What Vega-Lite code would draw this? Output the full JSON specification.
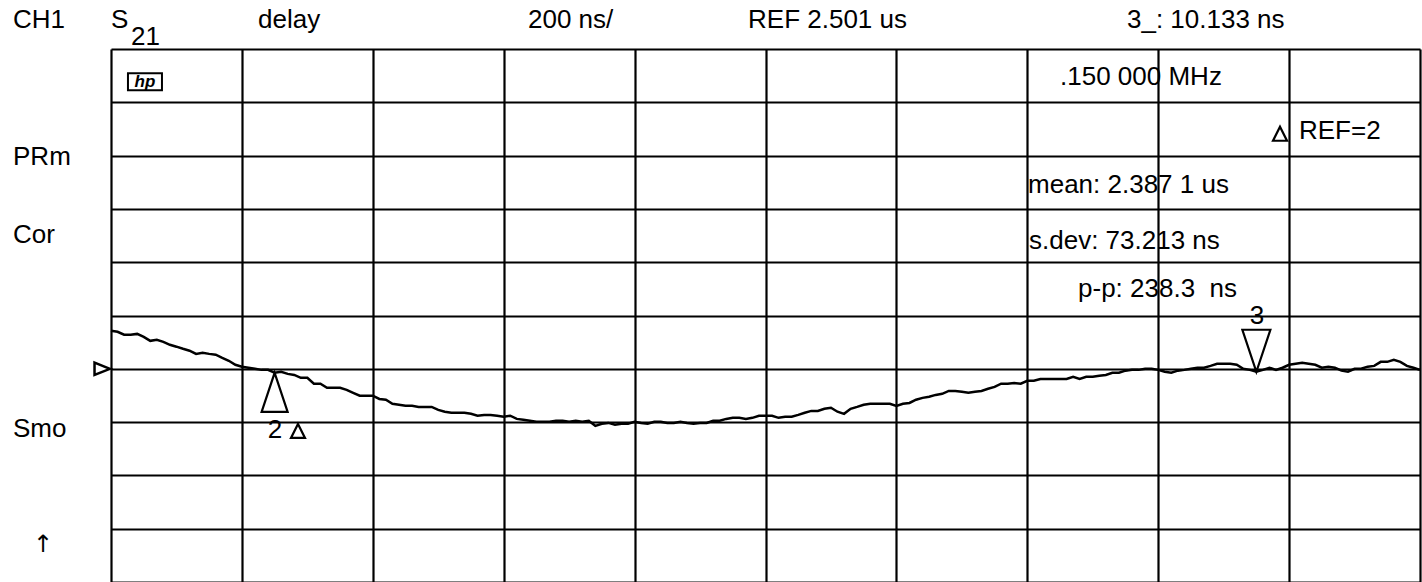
{
  "$schema": "https://vega.github.io/schema/vega-lite/v6.json",
  "width": 1309,
  "height": 533,
  "autosize": {"type": "none"},
  "padding": {"left": 111, "top": 49, "right": 2, "bottom": 0},
  "background": "white",
  "config": {
    "view": {"stroke": null},
    "text": {"font": "Liberation Sans", "fontSize": 26, "color": "black"},
    "axis": {"grid": true, "gridColor": "black", "gridWidth": 2.2, "gridOpacity": 1, "domain": false, "ticks": false, "labels": false, "title": null}
  },
  "data": {"values": [{}]},
  "datasets": {
    "trace": [
      {"pt":0,"delay":2.644},{"pt":1,"delay":2.640},{"pt":2,"delay":2.629},{"pt":3,"delay":2.629},{"pt":4,"delay":2.632},{"pt":5,"delay":2.621},{"pt":6,"delay":2.606},{"pt":7,"delay":2.610},{"pt":8,"delay":2.602},{"pt":9,"delay":2.591},
      {"pt":10,"delay":2.584},{"pt":11,"delay":2.576},{"pt":12,"delay":2.569},{"pt":13,"delay":2.557},{"pt":14,"delay":2.561},{"pt":15,"delay":2.557},{"pt":16,"delay":2.554},{"pt":17,"delay":2.542},{"pt":18,"delay":2.531},{"pt":19,"delay":2.516},
      {"pt":20,"delay":2.509},{"pt":21,"delay":2.505},{"pt":22,"delay":2.501},{"pt":23,"delay":2.497},{"pt":24,"delay":2.497},{"pt":25,"delay":2.486},{"pt":26,"delay":2.490},{"pt":27,"delay":2.482},{"pt":28,"delay":2.478},{"pt":29,"delay":2.467},
      {"pt":30,"delay":2.467},{"pt":31,"delay":2.445},{"pt":32,"delay":2.445},{"pt":33,"delay":2.430},{"pt":34,"delay":2.430},{"pt":35,"delay":2.430},{"pt":36,"delay":2.422},{"pt":37,"delay":2.411},{"pt":38,"delay":2.400},{"pt":39,"delay":2.400},
      {"pt":40,"delay":2.400},{"pt":41,"delay":2.388},{"pt":42,"delay":2.385},{"pt":43,"delay":2.370},{"pt":44,"delay":2.366},{"pt":45,"delay":2.362},{"pt":46,"delay":2.362},{"pt":47,"delay":2.358},{"pt":48,"delay":2.358},{"pt":49,"delay":2.358},
      {"pt":50,"delay":2.347},{"pt":51,"delay":2.340},{"pt":52,"delay":2.336},{"pt":53,"delay":2.336},{"pt":54,"delay":2.336},{"pt":55,"delay":2.332},{"pt":56,"delay":2.325},{"pt":57,"delay":2.328},{"pt":58,"delay":2.328},{"pt":59,"delay":2.325},
      {"pt":60,"delay":2.321},{"pt":61,"delay":2.325},{"pt":62,"delay":2.313},{"pt":63,"delay":2.310},{"pt":64,"delay":2.306},{"pt":65,"delay":2.302},{"pt":66,"delay":2.302},{"pt":67,"delay":2.302},{"pt":68,"delay":2.306},{"pt":69,"delay":2.306},
      {"pt":70,"delay":2.302},{"pt":71,"delay":2.306},{"pt":72,"delay":2.302},{"pt":73,"delay":2.306},{"pt":74,"delay":2.287},{"pt":75,"delay":2.295},{"pt":76,"delay":2.298},{"pt":77,"delay":2.291},{"pt":78,"delay":2.295},{"pt":79,"delay":2.295},
      {"pt":80,"delay":2.302},{"pt":81,"delay":2.298},{"pt":82,"delay":2.295},{"pt":83,"delay":2.302},{"pt":84,"delay":2.302},{"pt":85,"delay":2.298},{"pt":86,"delay":2.298},{"pt":87,"delay":2.302},{"pt":88,"delay":2.298},{"pt":89,"delay":2.295},
      {"pt":90,"delay":2.298},{"pt":91,"delay":2.298},{"pt":92,"delay":2.306},{"pt":93,"delay":2.306},{"pt":94,"delay":2.313},{"pt":95,"delay":2.317},{"pt":96,"delay":2.317},{"pt":97,"delay":2.313},{"pt":98,"delay":2.317},{"pt":99,"delay":2.325},
      {"pt":100,"delay":2.325},{"pt":101,"delay":2.325},{"pt":102,"delay":2.317},{"pt":103,"delay":2.321},{"pt":104,"delay":2.321},{"pt":105,"delay":2.328},{"pt":106,"delay":2.336},{"pt":107,"delay":2.343},{"pt":108,"delay":2.343},{"pt":109,"delay":2.351},
      {"pt":110,"delay":2.355},{"pt":111,"delay":2.340},{"pt":112,"delay":2.332},{"pt":113,"delay":2.351},{"pt":114,"delay":2.358},{"pt":115,"delay":2.366},{"pt":116,"delay":2.370},{"pt":117,"delay":2.370},{"pt":118,"delay":2.370},{"pt":119,"delay":2.370},
      {"pt":120,"delay":2.362},{"pt":121,"delay":2.370},{"pt":122,"delay":2.373},{"pt":123,"delay":2.385},{"pt":124,"delay":2.392},{"pt":125,"delay":2.396},{"pt":126,"delay":2.403},{"pt":127,"delay":2.407},{"pt":128,"delay":2.418},{"pt":129,"delay":2.418},
      {"pt":130,"delay":2.415},{"pt":131,"delay":2.411},{"pt":132,"delay":2.415},{"pt":133,"delay":2.418},{"pt":134,"delay":2.426},{"pt":135,"delay":2.433},{"pt":136,"delay":2.445},{"pt":137,"delay":2.445},{"pt":138,"delay":2.448},{"pt":139,"delay":2.445},
      {"pt":140,"delay":2.456},{"pt":141,"delay":2.456},{"pt":142,"delay":2.463},{"pt":143,"delay":2.463},{"pt":144,"delay":2.463},{"pt":145,"delay":2.463},{"pt":146,"delay":2.463},{"pt":147,"delay":2.471},{"pt":148,"delay":2.463},{"pt":149,"delay":2.471},
      {"pt":150,"delay":2.471},{"pt":151,"delay":2.475},{"pt":152,"delay":2.478},{"pt":153,"delay":2.486},{"pt":154,"delay":2.486},{"pt":155,"delay":2.494},{"pt":156,"delay":2.497},{"pt":157,"delay":2.497},{"pt":158,"delay":2.501},{"pt":159,"delay":2.501},
      {"pt":160,"delay":2.497},{"pt":161,"delay":2.490},{"pt":162,"delay":2.486},{"pt":163,"delay":2.494},{"pt":164,"delay":2.497},{"pt":165,"delay":2.501},{"pt":166,"delay":2.505},{"pt":167,"delay":2.505},{"pt":168,"delay":2.512},{"pt":169,"delay":2.520},
      {"pt":170,"delay":2.520},{"pt":171,"delay":2.520},{"pt":172,"delay":2.516},{"pt":173,"delay":2.501},{"pt":174,"delay":2.497},{"pt":175,"delay":2.490},{"pt":176,"delay":2.497},{"pt":177,"delay":2.505},{"pt":178,"delay":2.497},{"pt":179,"delay":2.505},
      {"pt":180,"delay":2.516},{"pt":181,"delay":2.520},{"pt":182,"delay":2.524},{"pt":183,"delay":2.520},{"pt":184,"delay":2.516},{"pt":185,"delay":2.505},{"pt":186,"delay":2.509},{"pt":187,"delay":2.505},{"pt":188,"delay":2.494},{"pt":189,"delay":2.490},
      {"pt":190,"delay":2.501},{"pt":191,"delay":2.501},{"pt":192,"delay":2.509},{"pt":193,"delay":2.512},{"pt":194,"delay":2.527},{"pt":195,"delay":2.527},{"pt":196,"delay":2.535},{"pt":197,"delay":2.527},{"pt":198,"delay":2.512},{"pt":199,"delay":2.505},
      {"pt":200,"delay":2.497}
    ]
  },
  "layer": [
    {
      "data": {"name": "trace"},
      "mark": {"type": "line", "color": "black", "strokeWidth": 2.5, "interpolate": "linear"},
      "encoding": {
        "x": {"field": "pt", "type": "quantitative", "scale": {"domain": [0, 200], "nice": false, "zero": false},
              "axis": {"values": [0, 20, 40, 60, 80, 100, 120, 140, 160, 180, 200]}},
        "y": {"field": "delay", "type": "quantitative", "scale": {"domain": [1.701, 3.701], "nice": false, "zero": false},
              "axis": {"values": [1.701, 1.901, 2.101, 2.301, 2.501, 2.701, 2.901, 3.101, 3.301, 3.501, 3.701]}}
      }
    },
    {
      "data": {"name": "trace"},
      "transform": [{"filter": "datum.pt == 25"}],
      "mark": {"type": "point", "shape": "M0,0L0.667,2L-0.667,2Z", "size": 1521, "filled": false, "stroke": "black", "strokeWidth": 2.2, "opacity": 1},
      "encoding": {"x": {"field": "pt", "type": "quantitative"}, "y": {"field": "delay", "type": "quantitative"}}
    },
    {
      "data": {"name": "trace"},
      "transform": [{"filter": "datum.pt == 175"}],
      "mark": {"type": "point", "shape": "M0,0L0.667,-2L-0.667,-2Z", "size": 1764, "filled": false, "stroke": "black", "strokeWidth": 2.2, "opacity": 1},
      "encoding": {"x": {"field": "pt", "type": "quantitative"}, "y": {"field": "delay", "type": "quantitative"}}
    },
    {
      "mark": {"type": "point", "shape": "M0,0L-2,-0.8L-2,0.8Z", "size": 240, "filled": false, "stroke": "black", "strokeWidth": 2.5, "opacity": 1},
      "encoding": {"x": {"datum": -0.15}, "y": {"datum": 2.501}}
    },
    {
      "mark": {"type": "point", "shape": "M0,-1L1,1L-1,1Z", "size": 196, "filled": false, "stroke": "black", "strokeWidth": 2.2, "opacity": 1},
      "encoding": {"x": {"datum": 28.57}, "y": {"datum": 2.268}}
    },
    {
      "mark": {"type": "point", "shape": "M0,-1L1,1L-1,1Z", "size": 196, "filled": false, "stroke": "black", "strokeWidth": 2.2, "opacity": 1},
      "encoding": {"x": {"datum": 178.61}, "y": {"datum": 3.383}}
    },
    {
      "mark": {"type": "point", "shape": "M-2,-1L2,-1L2,1L-2,1Z", "size": 289, "filled": false, "stroke": "black", "strokeWidth": 2, "opacity": 1},
      "encoding": {"x": {"datum": 5.19}, "y": {"datum": 3.578}}
    },
    {
      "mark": {"type": "text", "align": "center", "baseline": "middle", "fontStyle": "italic", "fontWeight": "bold", "fontSize": 17},
      "encoding": {"x": {"datum": 5.19}, "y": {"datum": 3.578}, "text": {"value": "hp"}}
    },
    {"mark": {"type": "text", "align": "left", "baseline": "middle"}, "encoding": {"x": {"datum": -14.97}, "y": {"datum": 3.809}, "text": {"value": "CH1"}}},
    {"mark": {"type": "text", "align": "left", "baseline": "middle"}, "encoding": {"x": {"datum": 0}, "y": {"datum": 3.809}, "text": {"value": "S"}}},
    {"mark": {"type": "text", "align": "left", "baseline": "middle"}, "encoding": {"x": {"datum": 3.06}, "y": {"datum": 3.747}, "text": {"value": "21"}}},
    {"mark": {"type": "text", "align": "left", "baseline": "middle"}, "encoding": {"x": {"datum": 22.46}, "y": {"datum": 3.809}, "text": {"value": "delay"}}},
    {"mark": {"type": "text", "align": "left", "baseline": "middle"}, "encoding": {"x": {"datum": 63.71}, "y": {"datum": 3.809}, "text": {"value": "200 ns/"}}},
    {"mark": {"type": "text", "align": "left", "baseline": "middle"}, "encoding": {"x": {"datum": 97.33}, "y": {"datum": 3.809}, "text": {"value": "REF 2.501 us"}}},
    {"mark": {"type": "text", "align": "left", "baseline": "middle"}, "encoding": {"x": {"datum": 155.23}, "y": {"datum": 3.809}, "text": {"value": "3_: 10.133 ns"}}},
    {"mark": {"type": "text", "align": "left", "baseline": "middle"}, "encoding": {"x": {"datum": 145.0}, "y": {"datum": 3.597}, "text": {"value": ".150 000 MHz"}}},
    {"mark": {"type": "text", "align": "left", "baseline": "middle"}, "encoding": {"x": {"datum": 181.51}, "y": {"datum": 3.392}, "text": {"value": "REF=2"}}},
    {"mark": {"type": "text", "align": "left", "baseline": "middle"}, "encoding": {"x": {"datum": 140.11}, "y": {"datum": 3.191}, "text": {"value": "mean: 2.387 1 us"}}},
    {"mark": {"type": "text", "align": "left", "baseline": "middle"}, "encoding": {"x": {"datum": 140.26}, "y": {"datum": 2.981}, "text": {"value": "s.dev: 73.213 ns"}}},
    {"mark": {"type": "text", "align": "left", "baseline": "middle"}, "encoding": {"x": {"datum": 147.75}, "y": {"datum": 2.801}, "text": {"value": "p-p: 238.3 \u00a0ns"}}},
    {"mark": {"type": "text", "align": "center", "baseline": "middle"}, "encoding": {"x": {"datum": 175.1}, "y": {"datum": 2.700}, "text": {"value": "3"}}},
    {"mark": {"type": "text", "align": "center", "baseline": "middle"}, "encoding": {"x": {"datum": 25.06}, "y": {"datum": 2.272}, "text": {"value": "2"}}},
    {"mark": {"type": "text", "align": "left", "baseline": "middle"}, "encoding": {"x": {"datum": -14.97}, "y": {"datum": 3.296}, "text": {"value": "PRm"}}},
    {"mark": {"type": "text", "align": "left", "baseline": "middle"}, "encoding": {"x": {"datum": -14.97}, "y": {"datum": 3.004}, "text": {"value": "Cor"}}},
    {"mark": {"type": "text", "align": "left", "baseline": "middle"}, "encoding": {"x": {"datum": -14.97}, "y": {"datum": 2.276}, "text": {"value": "Smo"}}},
    {"mark": {"type": "text", "align": "center", "baseline": "middle", "font": "DejaVu Sans", "fontSize": 24}, "encoding": {"x": {"datum": -10.39}, "y": {"datum": 1.841}, "text": {"value": "↑"}}}
  ]
}
